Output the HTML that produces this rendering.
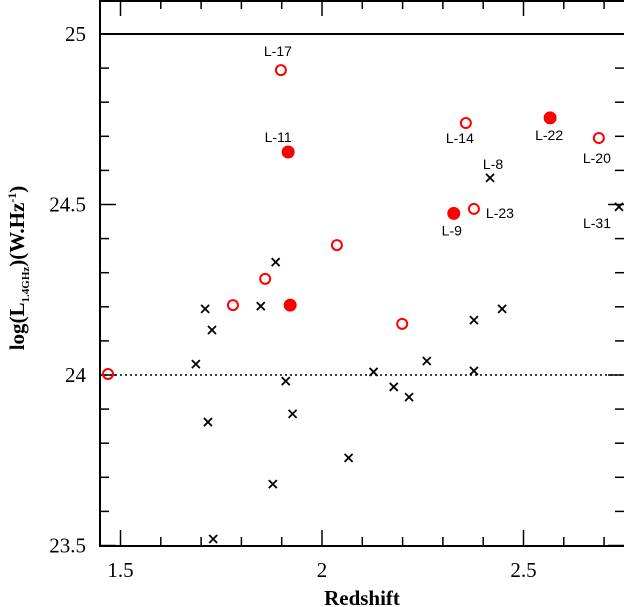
<!DOCTYPE html>
<html><head><meta charset="utf-8"><style>
html,body{margin:0;padding:0;background:#fff}
svg{display:block}
.tl{font-family:"Liberation Serif",serif;font-size:21px}
.pl{font-family:"Liberation Sans",sans-serif;font-size:14px}
</style></head><body>
<svg id="c" width="624" height="607" xmlns="http://www.w3.org/2000/svg"></svg>
<script>
const openX=[1.898,2.357,2.687,2.377,2.037,1.859,1.779,2.199,1.469];
const openY=[24.894,24.739,24.695,24.487,24.381,24.282,24.205,24.150,24.003];
const filledX=[1.916,2.566,2.327,1.921];
const filledY=[24.654,24.754,24.474,24.205];
const crossX=[1.710,1.727,1.687,1.717,1.730,1.878,1.848,1.885,1.910,1.927,2.066,2.128,2.178,2.216,2.260,2.417,2.377,2.447,2.377,2.737];
const crossY=[24.194,24.132,24.032,23.862,23.519,23.680,24.202,24.331,23.982,23.886,23.757,24.009,23.965,23.935,24.041,24.578,24.161,24.194,24.012,24.493];
const labelText=["L-17","L-14","L-20","L-23","L-11","L-22","L-9","L-8","L-31"];
const labelX=[1.898,2.357,2.687,2.377,1.916,2.566,2.327,2.417,2.737];
const labelY=[24.894,24.739,24.695,24.487,24.654,24.754,24.474,24.578,24.493];
const labelDX=[-3,-6,-2,26,-10,-1,-2,3,-22];
const labelDY=[-19,15,20,4,-15,17,17,-14,16];
const xTicks=[1.5,2,2.5];
const yTicks=[23.5,24,24.5,25];
const NS="http://www.w3.org/2000/svg";
const svg=document.getElementById('c');
const L=100,R=624,T=0,B=546;
function sx(v){return 120.5+(v-1.5)*403;}
function sy(v){return 34+(25-v)*341;}
function mk(t,a){const e=document.createElementNS(NS,t);for(const k in a)e.setAttribute(k,a[k]);svg.appendChild(e);return e;}
let e;
e=mk('rect',{x:L,y:T+1,width:R-L+2,height:B-T-1,fill:'none',stroke:'#000','stroke-width':2});

for(let i=15;i<=27;i++){const v=i/10,x=sx(v),maj=i%5==0,len=maj?16:9;
 e=mk('line',{x1:x,x2:x,y1:B,y2:B-len,stroke:'#000','stroke-width':1.5});
 
 e=mk('line',{x1:x,x2:x,y1:T,y2:T+len,stroke:'#000','stroke-width':1.5});
 }
for(let i=235;i<=251;i++){const v=i/10;const y=sy(v);if(y<0||y>B)continue;const maj=i%5==0,len=maj?16:9;
 e=mk('line',{x1:L,x2:L+len,y1:y,y2:y,stroke:'#000','stroke-width':1.5});
 
 e=mk('line',{x1:R,x2:R-len,y1:y,y2:y,stroke:'#000','stroke-width':1.5});
 }
xTicks.forEach(v=>{e=mk('text',{x:sx(v),y:577,'text-anchor':'middle',class:'tl'});e.textContent=String(v);
 });
yTicks.forEach(v=>{e=mk('text',{x:86,y:sy(v)+7,'text-anchor':'end',class:'tl'});e.textContent=String(v);
 });
e=mk('text',{x:362,y:605,'text-anchor':'middle',class:'tl','font-weight':'bold'});e.textContent='Redshift';

e=mk('text',{x:0,y:0,'text-anchor':'middle',class:'tl',transform:'translate(24,268) rotate(-90)','font-size':'21','font-weight':'bold'});
e.innerHTML='log(L<tspan font-size="11" dy="5">1.4GHz</tspan><tspan dy="-5">)(W.Hz</tspan><tspan font-size="12" dy="-8">-1</tspan><tspan dy="8">)</tspan>';

e=mk('line',{x1:L,x2:R,y1:sy(25),y2:sy(25),stroke:'#000','stroke-width':2});

e=mk('line',{x1:L,x2:R,y1:sy(24),y2:sy(24),stroke:'#000','stroke-width':1.5,'stroke-dasharray':'2,3'});

crossX.forEach((v,i)=>{const x=sx(v),y=sy(crossY[i]);
 e=mk('path',{d:`M${x-4} ${y-4}L${x+4} ${y+4}M${x+4} ${y-4}L${x-4} ${y+4}`,stroke:'#000','stroke-width':1.8});
 });
openX.forEach((v,i)=>{e=mk('circle',{cx:sx(v),cy:sy(openY[i]),r:5,fill:'none',stroke:'#f00','stroke-width':2});
 });
filledX.forEach((v,i)=>{e=mk('circle',{cx:sx(v),cy:sy(filledY[i]),r:6.5,fill:'#f00'});
 });
labelText.forEach((t,i)=>{e=mk('text',{x:sx(labelX[i])+labelDX[i],y:sy(labelY[i])+labelDY[i]+5,'text-anchor':'middle',class:'pl'});e.textContent=t;
 });
</script>
</body></html>
